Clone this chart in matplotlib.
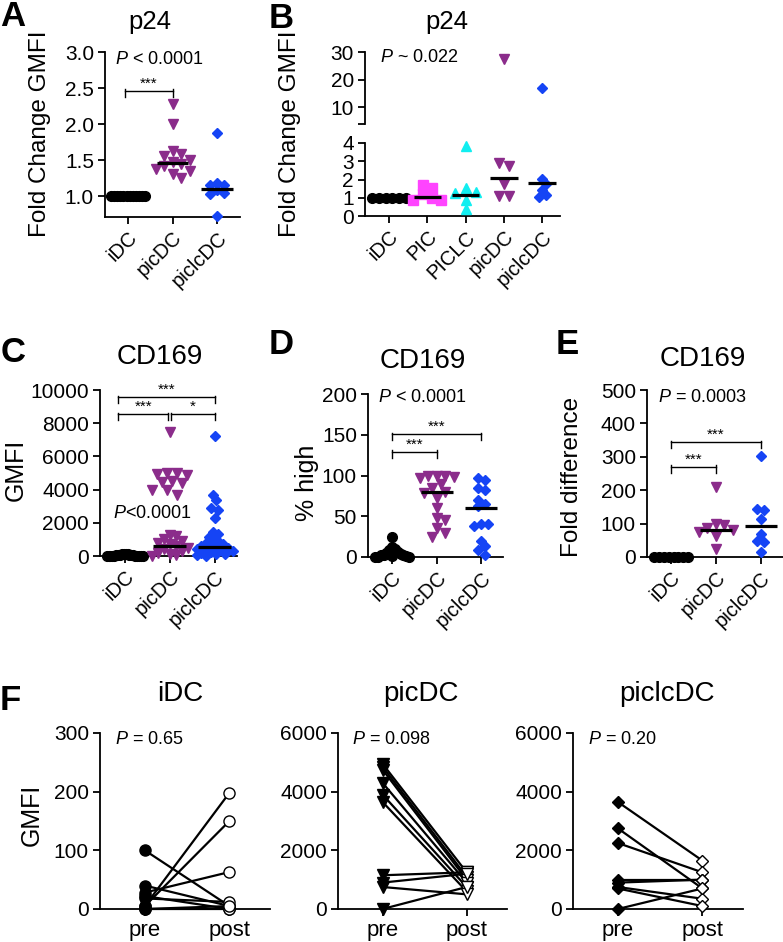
import numpy as np
import matplotlib
matplotlib.use('Agg')
import matplotlib.pyplot as plt

plt.rcParams['font.family'] = ['Liberation Sans', 'DejaVu Sans']
plt.rcParams['mathtext.fontset'] = 'custom'
plt.rcParams['mathtext.rm'] = 'Liberation Sans'
plt.rcParams['mathtext.it'] = 'Liberation Sans:italic'

# ---- data ----
cats3 = ['iDC', 'picDC', 'piclcDC']
cats5 = ['iDC', 'PIC', 'PICLC', 'picDC', 'piclcDC']

# A: p24 fold change
a_idc = [1.0, 1.0, 1.0, 1.0, 1.0, 1.0, 1.0, 1.0, 1.0, 1.0, 1.0, 1.0]
a_picdc = [2.28, 2.0, 1.62, 1.58, 1.55, 1.5, 1.47, 1.45, 1.42, 1.38, 1.35, 1.3, 1.25]
a_piclcdc = [1.87, 1.18, 1.16, 1.15, 1.08, 1.05, 1.03, 0.72]
a_med = [1.0, 1.46, 1.1]

# B: p24 fold change, 5 groups
b_idc = [1.0, 1.0, 1.0, 1.0, 1.0, 1.0]
b_pic = [1.7, 1.55, 1.2, 1.0, 0.9, 0.85]
b_piclc = [3.85, 1.55, 1.3, 1.25, 0.9, 0.4]
b_picdc = [27.3, 2.9, 2.75, 1.75, 1.1, 1.1]
b_piclcdc = [17.0, 2.05, 1.75, 1.45, 1.15, 1.05]
b_med = [1.0, 1.05, 1.15, 2.1, 1.8]

# C: CD169 GMFI
c_idc = [150, 130, 120, 100, 90, 80, 70, 60, 50, 40, 30, 20, 10, 5, 0, 0, 0, 0, 0, 0]
c_picdc = [7500, 5000, 5000, 4950, 4900, 4500, 4450, 4400, 4000, 3950, 3700,
           1250, 1200, 1000, 900, 800, 700, 600, 500, 400, 300, 200, 100, 50, 0]
c_piclcdc = [7200, 3700, 3350, 2900, 2800, 2300, 1450, 1300, 1150, 1000, 900, 800,
             700, 650, 600, 550, 500, 450, 400, 350, 300, 250, 200, 150, 100, 50, 0]
c_med = [60, 600, 520]

# D: % high
d_idc = [25, 12, 10, 8, 6, 5, 4, 3, 2, 2, 1, 1, 0, 0, 0]
d_picdc = [100, 100, 100, 98, 97, 90, 85, 80, 78, 72, 60, 48, 45, 35, 30, 25]
d_piclcdc = [97, 95, 85, 82, 70, 65, 62, 40, 40, 38, 20, 13, 8, 2]
d_med = [3, 80, 60]

# E: fold difference
e_idc = [0, 0, 0, 0, 0, 0, 0, 0]
e_picdc = [210, 100, 95, 88, 80, 75, 62, 25]
e_piclcdc = [303, 145, 140, 115, 70, 48, 45, 15]
e_med = [0, 80, 93]

# F: pre / post pairs
f_idc_pre = [100, 5, 5, 28, 40, 22, 18, 0, 0]
f_idc_post = [5, 198, 150, 63, 5, 0, 12, 0, 5]
f_picdc_pre = [4950, 4850, 4750, 4300, 3900, 3650, 1150, 900, 750, 0]
f_picdc_post = [1250, 1100, 1000, 900, 750, 600, 1250, 1200, 500, 750]
f_piclcdc_pre = [3650, 2750, 2250, 1000, 900, 750, 700, 0]
f_piclcdc_post = [1650, 700, 1250, 1000, 1000, 350, 100, 700]

purple = '#8B2C8B'
blue = '#1544F5'
magenta = '#FF44FF'
cyan = '#11EEF0'

W, H = 783, 942
fig = plt.figure(figsize=(W / 100, H / 100), dpi=100)


def add_ax(l, t, r, b):
    return fig.add_axes([l / W, 1 - b / H, (r - l) / W, (b - t) / H])


def style(ax):
    for s in ['top', 'right']:
        ax.spines[s].set_visible(False)
    for s in ['left', 'bottom']:
        ax.spines[s].set_linewidth(1.3)
    ax.tick_params(direction='out', length=5, width=1.3, labelsize=15, pad=3)
    ax.patch.set_alpha(0)


def ftext(x, y, s, **kw):
    kw.setdefault('va', 'center')
    return fig.text(x / W, 1 - y / H, s, **kw)


def swarm(ax, vals, d=9.0, maxw=17.0):
    # simple beeswarm in pixel space, each vertical cluster kept within +-maxw px
    pos = ax.get_position()
    x0, x1 = ax.get_xlim()
    y0, y1 = ax.get_ylim()
    xpx = pos.width * W / (x1 - x0)
    ypx = pos.height * H / (y1 - y0)
    vals = np.asarray(vals, float)
    order = np.argsort(-vals, kind='stable')
    placed = []
    offs = np.zeros(len(vals))
    for i in order:
        y = vals[i] * ypx
        k = 0
        while True:
            c = (k + 1) // 2 * (1 if k % 2 else -1) if k else 0
            x = c * d / 2
            if all((x - px) ** 2 + (y - py) ** 2 >= (0.9 * d) ** 2 for px, py in placed):
                break
            k += 1
        placed.append((x, y))
        offs[i] = x
    # split into vertical clusters and squeeze each one separately
    ys = vals[order] * ypx
    clusters, cur = [], [order[0]]
    for j in range(1, len(order)):
        if ys[j - 1] - ys[j] > d:
            clusters.append(cur)
            cur = []
        cur.append(order[j])
    clusters.append(cur)
    for cl in clusters:
        o = offs[cl]
        o = o - (o.max() + o.min()) / 2
        m = np.abs(o).max()
        if m > maxw:
            o = o * maxw / m
        offs[cl] = o
    return offs / xpx


def dots(ax, i, vals, color, marker, ms, maxw=17.0):
    y0, y1 = ax.get_ylim()
    vals = [v for v in vals if (v >= y0 or y0 <= 0) and v <= y1]
    if not vals:
        return
    off = swarm(ax, vals, d=ms * 1.35, maxw=maxw)
    ax.plot(i + off, vals, ls='none', marker=marker, ms=ms, color=color,
            mec=color, clip_on=False, zorder=3)


def medline(ax, i, v):
    ax.plot([i - 0.36, i + 0.36], [v, v], color='k', lw=2.3,
            solid_capstyle='butt', zorder=4, clip_on=False)


def sigbar(ax, x0, x1, y, txt, fs=11):
    y0, y1 = ax.get_ylim()
    cap = 0.035 * (y1 - y0)
    ax.plot([x0, x1], [y, y], color='k', lw=1.0, clip_on=False)
    for xx in (x0, x1):
        ax.plot([xx, xx], [y - cap, y + cap * 0.25], color='k', lw=1.0, clip_on=False)
    ax.text((x0 + x1) / 2, y + cap * 0.05, txt, ha='center', va='bottom',
            fontsize=fs, clip_on=False)


def cat_axis(ax, cats):
    ax.set_xticks(range(len(cats)))
    ax.set_xticklabels(cats, rotation=45, ha='right', rotation_mode='anchor', fontsize=14.5)


markers3 = ['o', 'v', 'D']
colors3 = ['k', purple, blue]
sizes3 = [7, 7.5, 5.2]

# ---------------- A ----------------
axA = add_ax(105, 52, 240, 217)
style(axA)
axA.set_xlim(-0.52, 2.52)
axA.set_ylim(0.71, 3.0)
axA.set_yticks([1.0, 1.5, 2.0, 2.5, 3.0])
axA.set_yticklabels(['1.0', '1.5', '2.0', '2.5', '3.0'])
cat_axis(axA, cats3)
for i, vals in enumerate([a_idc, a_picdc, a_piclcdc]):
    dots(axA, i, vals, colors3[i], markers3[i], sizes3[i])
    medline(axA, i, a_med[i])
sigbar(axA, -0.08, 1.0, 2.46, '***')
ftext(115, 60, r'$P$ < 0.0001', fontsize=13)
ftext(150, 22, 'p24', ha='center', fontsize=18.5)
ftext(40, 134, 'Fold Change GMFI', ha='center', rotation=90, fontsize=17.5)
ftext(13, 16, 'A', ha='center', fontsize=25, fontweight='bold')

# ---------------- B ----------------
axBt = add_ax(365, 52, 560, 124)
axBb = add_ax(365, 143, 560, 216)
for ax in (axBt, axBb):
    style(ax)
    ax.set_xlim(-0.63, 4.47)
axBt.set_ylim(4, 30)
axBt.set_yticks([4, 10, 20, 30])
axBt.set_yticklabels(['', '10', '20', '30'])
axBt.spines['bottom'].set_visible(False)
axBt.set_xticks([])
axBb.set_ylim(0, 4)
axBb.set_yticks([0, 1, 2, 3, 4])
cat_axis(axBb, cats5)
b_groups = [b_idc, b_pic, b_piclc, b_picdc, b_piclcdc]
b_colors = ['k', magenta, cyan, purple, blue]
b_markers = ['o', 's', '^', 'v', 'D']
b_sizes = [7, 7, 7.5, 7.5, 5.2]
for i, vals in enumerate(b_groups):
    for ax in (axBt, axBb):
        dots(ax, i, vals, b_colors[i], b_markers[i], b_sizes[i])
    medline(axBb, i, b_med[i])
ftext(380, 58, r'$P$ ~ 0.022', fontsize=13)
ftext(447, 22, 'p24', ha='center', fontsize=18.5)
ftext(290, 134, 'Fold Change GMFI', ha='center', rotation=90, fontsize=17.5)
ftext(281, 18, 'B', ha='center', fontsize=25, fontweight='bold')

# ---------------- C ----------------
axC = add_ax(100, 390, 237, 556)
style(axC)
axC.set_xlim(-0.55, 2.5)
axC.set_ylim(0, 10000)
axC.set_yticks(range(0, 10001, 2000))
cat_axis(axC, cats3)
for i, vals in enumerate([c_idc, c_picdc, c_piclcdc]):
    dots(axC, i, vals, colors3[i], markers3[i], sizes3[i], maxw=18)
    medline(axC, i, c_med[i])
sigbar(axC, -0.15, 2.0, 9580, '***')
sigbar(axC, -0.15, 0.97, 8550, '***')
sigbar(axC, 1.03, 2.0, 8550, '*')
ftext(113, 513, r'$P$<0.0001', fontsize=13)
ftext(160, 357, 'CD169', ha='center', fontsize=20)
ftext(16, 470, 'GMFI', ha='center', rotation=90, fontsize=18)
ftext(13, 353, 'C', ha='center', fontsize=25, fontweight='bold')

# ---------------- D ----------------
axD = add_ax(368, 394, 503, 557)
style(axD)
axD.set_xlim(-0.54, 2.49)
axD.set_ylim(0, 200)
axD.set_yticks(range(0, 201, 50))
cat_axis(axD, cats3)
for i, vals in enumerate([d_idc, d_picdc, d_piclcdc]):
    dots(axD, i, vals, colors3[i], markers3[i], sizes3[i])
    if i > 0:
        medline(axD, i, d_med[i])
sigbar(axD, 0.0, 2.0, 151, '***')
sigbar(axD, 0.0, 1.0, 129, '***')
ftext(378, 398, r'$P$ < 0.0001', fontsize=13)
ftext(423, 361, 'CD169', ha='center', fontsize=20)
ftext(307, 483, '% high', ha='center', rotation=90, fontsize=18)
ftext(281, 345, 'D', ha='center', fontsize=25, fontweight='bold')

# ---------------- E ----------------
axE = add_ax(647, 390, 783, 557)
style(axE)
axE.set_xlim(-0.54, 2.5)
axE.set_ylim(0, 500)
axE.set_yticks(range(0, 501, 100))
cat_axis(axE, cats3)
for i, vals in enumerate([e_idc, e_picdc, e_piclcdc]):
    dots(axE, i, vals, colors3[i], markers3[i], sizes3[i])
    if i > 0:
        medline(axE, i, e_med[i])
sigbar(axE, 0.0, 2.0, 343, '***')
sigbar(axE, 0.0, 1.0, 270, '***')
ftext(658, 398, r'$P$ = 0.0003', fontsize=13)
ftext(703, 359, 'CD169', ha='center', fontsize=20)
ftext(572, 477, 'Fold difference', ha='center', rotation=90, fontsize=17.5)
ftext(567, 345, 'E', ha='center', fontsize=25, fontweight='bold')

# ---------------- F ----------------
f_sets = [
    ('iDC', f_idc_pre, f_idc_post, 'o', 8, 300, 100, (100, 270), 180, 115, '= 0.65'),
    ('picDC', f_picdc_pre, f_picdc_post, 'v', 8.5, 6000, 2000, (338, 507), 421, 352, '= 0.098'),
    ('piclcDC', f_piclcdc_pre, f_piclcdc_post, 'D', 6, 6000, 2000, (573, 743), 667, 588, '= 0.20'),
]
for title, pre, post, mk, ms, ymax, step, (l, r), tx, px, ptxt in f_sets:
    ax = add_ax(l, 733, r, 909)
    style(ax)
    ax.set_xlim(-0.53, 1.48)
    ax.set_ylim(0, ymax)
    ax.set_yticks(range(0, ymax + 1, step))
    ax.set_xticks([0, 1])
    ax.set_xticklabels(['pre', 'post'], fontsize=16)
    for a, b in zip(pre, post):
        ax.plot([0, 1], [a, b], color='k', lw=1.6, zorder=2, clip_on=False)
    ax.plot([0] * len(pre), pre, ls='none', marker=mk, ms=ms, color='k',
            zorder=3, clip_on=False)
    ax.plot([1] * len(post), post, ls='none', marker=mk, ms=ms, mfc='white',
            mec='k', mew=1.0, zorder=3, clip_on=False)
    ftext(tx, 694, title, ha='center', fontsize=20)
    ftext(px, 739, r'$P$ ' + ptxt, fontsize=13)

ftext(32, 815, 'GMFI', ha='center', rotation=90, fontsize=18)
ftext(10, 700, 'F', ha='center', fontsize=25, fontweight='bold')

fig.savefig('out.png', dpi=100)
